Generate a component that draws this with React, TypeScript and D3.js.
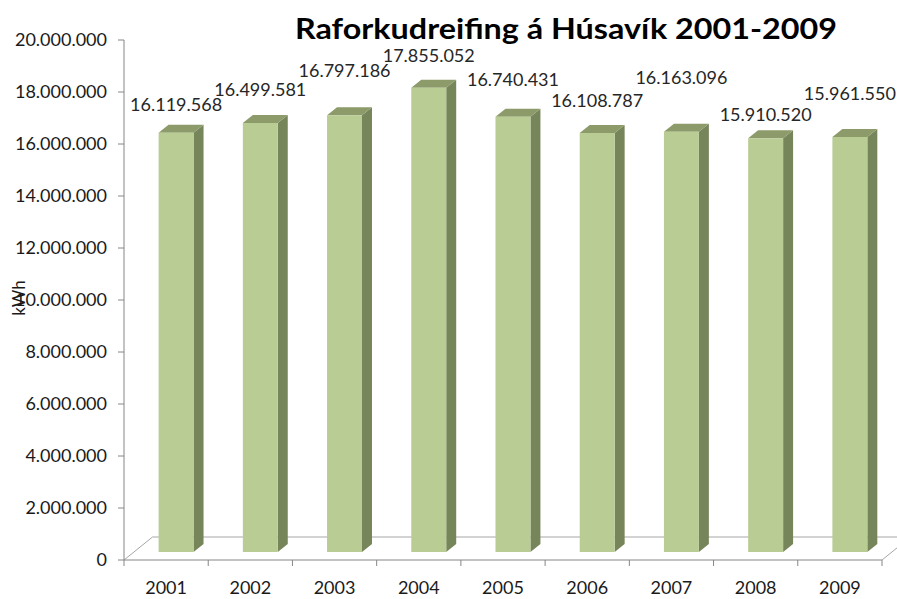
import React from "react";
import * as d3 from "d3";

const years = ["2001", "2002", "2003", "2004", "2005", "2006", "2007", "2008", "2009"];
const consumption = [16119568, 16499581, 16797186, 17855052, 16740431, 16108787, 16163096, 15910520, 15961550];
const labelLift = [22, 27, 38, 26, 31, 26, 48, 17, 37];
const yTicks = [0, 2000000, 4000000, 6000000, 8000000, 10000000, 12000000, 14000000, 16000000, 18000000, 20000000];
const title = "Raforkudreifing á Húsavík 2001-2009";
const yAxisTitle = "kWh";

const W = 897;
const H = 599;
const DX = 28.5;
const DY = -23;
const F1 = 0.35;
const F2 = 0.7;
const FONT = "Lato, 'Open Sans', sans-serif";

const fmt = (v: number) => d3.format(",")(v).replace(/,/g, ".");

export default function App() {
  const x = d3.scaleBand<string>().domain(years).range([124, 882]).paddingInner(0.585).paddingOuter(0.2925);
  const xCat = d3.scaleBand<string>().domain(years).range([124, 882]);
  const y = d3.scaleLinear().domain([0, 20000000]).range([560, 40]);
  const bw = x.bandwidth();
  const ddx = (F2 - F1) * DX;
  const ddy = (F2 - F1) * DY;

  return (
    <svg width={W} height={H} style={{ position: "absolute", left: 0, top: 0, background: "#fff" }}>
      {/* floor */}
      <g stroke="#a6a6a6" strokeWidth={1} fill="none">
        <line x1={124} y1={560} x2={124 + DX} y2={560 + DY} />
        <line x1={124 + DX} y1={560 + DY} x2={882 + DX} y2={560 + DY} />
        <line x1={882} y1={560} x2={882 + DX} y2={560 + DY} />
      </g>
      {/* bars */}
      {years.map((yr, i) => {
        const v = consumption[i];
        const x0 = (x(yr) as number) + F1 * DX;
        const x1 = x0 + bw;
        const yb = y(0) + F1 * DY;
        const yt = y(v) + F1 * DY;
        const front = `M${x0},${yb}L${x0},${yt}L${x1},${yt}L${x1},${yb}Z`;
        const side = `M${x1},${yb}L${x1},${yt}L${x1 + ddx},${yt + ddy}L${x1 + ddx},${yb + ddy}Z`;
        const top = `M${x0},${yt}L${x0 + ddx},${yt + ddy}L${x1 + ddx},${yt + ddy}L${x1},${yt}Z`;
        return (
          <g key={yr}>
            <path d={side} fill="#77855b" />
            <path d={top} fill="#8c9b69" />
            <path d={front} fill="#b8cc94" />
          </g>
        );
      })}
      {/* y axis */}
      <line x1={124} y1={y(20000000)} x2={124} y2={y(0)} stroke="#868686" />
      {yTicks.map((t) => (
        <g key={t}>
          <line x1={118} x2={124} y1={y(t)} y2={y(t)} stroke="#868686" />
          <text x={107} y={y(t)} dy="0.36em" textAnchor="end" fontFamily={FONT} fontSize={18} fill="#1a1a1a">
            {fmt(t)}
          </text>
        </g>
      ))}
      {/* x axis */}
      <line x1={124} y1={560} x2={882} y2={560} stroke="#868686" />
      {years.map((yr) => (
        <line key={"t" + yr} x1={xCat(yr) as number} x2={xCat(yr) as number} y1={560} y2={566} stroke="#868686" />
      ))}
      <line x1={882} x2={882} y1={560} y2={566} stroke="#868686" />
      {years.map((yr) => (
        <text key={"l" + yr} x={(xCat(yr) as number) + xCat.bandwidth() / 2} y={594} textAnchor="middle" fontFamily={FONT} fontSize={18} fill="#1a1a1a">
          {yr}
        </text>
      ))}
      {/* data labels */}
      {years.map((yr, i) => (
        <text key={"d" + yr} x={(x(yr) as number) + F1 * DX + bw / 2} y={y(consumption[i]) + F1 * DY - labelLift[i]} textAnchor="middle" fontFamily={FONT} fontSize={18} fill="#262626">
          {fmt(consumption[i])}
        </text>
      ))}
      {/* axis title */}
      <text transform="translate(25,298) rotate(-90)" textAnchor="middle" fontFamily={FONT} fontSize={17} fill="#1a1a1a">
        {yAxisTitle}
      </text>
      {/* title */}
      <text x={295} y={39} textLength={542} lengthAdjust="spacingAndGlyphs" fontFamily={FONT} fontWeight="bold" fontSize={28} fill="#000">
        {title}
      </text>
    </svg>
  );
}
